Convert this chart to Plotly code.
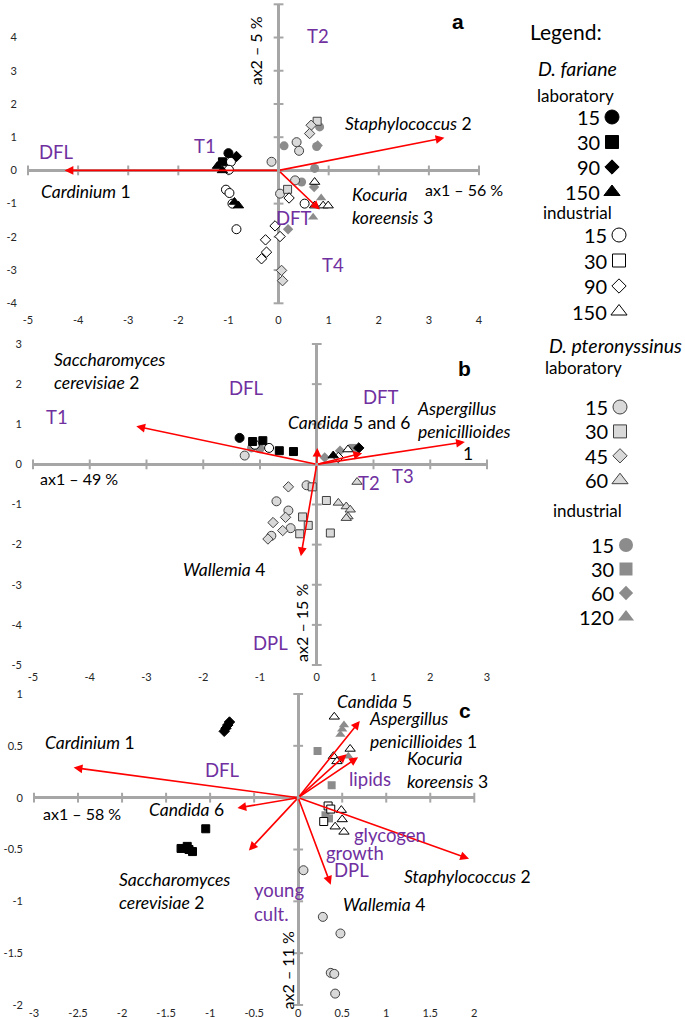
import plotly.graph_objects as go

# ---------------- tick values ----------------
A_XT = [-5, -4, -3, -2, -1, 0, 1, 2, 3, 4]
A_YT = [-4, -3, -2, -1, 0, 1, 2, 3, 4, 5]
B_XT = [-5, -4, -3, -2, -1, 0, 1, 2, 3]
B_YT = [-5, -4, -3, -2, -1, 0, 1, 2, 3]
C_XT = [-3, -2.5, -2, -1.5, -1, -0.5, 0, 0.5, 1, 1.5, 2]
C_YT = [-2, -1.5, -1, -0.5, 0, 0.5, 1]

# ---------------- legend categories ----------------
FAR_LAB_T = [15, 30, 90, 150]
FAR_IND_T = [15, 30, 90, 150]
PTER_LAB_T = [15, 30, 45, 60]
PTER_IND_T = [15, 30, 60, 120]

# ---------------- panel a ----------------
A_FAR_LAB_X = [-1.00, -1.12, -0.84, -1.22, -1.12, -0.80, -0.88]
A_FAR_LAB_Y = [0.52, 0.26, 0.42, 0.13, 0.00, -1.06, -0.95]
A_FAR_LAB_T = [15, 30, 90, 150, 150, 150, 150]

A_FAR_IND_X = [-0.95, -0.99, -1.05, -0.98, -0.92, -0.84, 0.52, 0.21, -0.07, 0.03, -0.26, -0.24, -0.34, 0.72, 0.72, 0.89, 0.99]
A_FAR_IND_Y = [0.26, 0.02, -0.58, -0.68, -1.00, -1.77, -1.00, -0.83, -1.67, -1.99, -2.09, -2.46, -2.66, -0.35, -1.06, -1.06, -1.06]
A_FAR_IND_T = [15, 15, 15, 15, 15, 15, 15, 90, 90, 90, 90, 90, 90, 150, 150, 150, 150]

A_PTER_LAB_X = [0.36, 0.41, -0.14, 0.33, 0.03, 0.77, 0.18, 0.65, 0.62, 0.06, 0.08]
A_PTER_LAB_Y = [0.85, 0.59, 0.26, -0.30, -0.70, 1.48, -0.57, 1.36, 1.11, -3.01, -3.32]
A_PTER_LAB_T = [15, 15, 15, 15, 15, 30, 30, 45, 45, 45, 45]

A_PTER_IND_X = [0.11, 0.82, 0.76, 0.72, 0.46, 0.78, 0.71, 0.19, 0.85, 0.69]
A_PTER_IND_Y = [0.74, 1.31, 0.72, 0.06, -0.35, 0.75, -0.50, -1.77, -0.83, -1.41]
A_PTER_IND_T = [15, 15, 15, 15, 15, 60, 60, 60, 120, 120]

A_ARROW_X = [-4.27, 3.31, 0.82]
A_ARROW_Y = [0.00, 0.98, -1.18]

A_SP_TEXT = ["<i>Cardinium</i> 1", "<i>Staphylococcus</i> 2", "<i>Kocuria<br>koreensis</i> 3"]
A_SP_X = [-3.85, 2.60, 1.42]
A_SP_Y = [-0.64, 1.42, -1.07]
A_SP_ANCHOR = ["center", "center", "left"]
A_VAR_TEXT = ["DFL", "T1", "T2", "DFT", "T4"]
A_VAR_X = [-4.43, -1.46, 0.78, 0.30, 1.08]
A_VAR_Y = [0.56, 0.72, 4.05, -1.43, -2.84]
A_AX_TEXT = ["ax1 – 56 %", "ax2 – 5 %"]
A_AX_X = [3.71, -0.46]
A_AX_Y = [-0.56, 3.60]

# ---------------- panel b ----------------
B_FAR_LAB_X = [-1.36, -1.13, -0.95, -0.66, -0.41, 0.29, 0.74]
B_FAR_LAB_Y = [0.66, 0.57, 0.59, 0.34, 0.32, 0.22, 0.41]
B_FAR_LAB_T = [15, 30, 30, 30, 30, 150, 90]

B_FAR_IND_X = [-1.09, -0.84, 0.38, 0.55]
B_FAR_IND_Y = [0.49, 0.41, 0.17, 0.37]
B_FAR_IND_T = [15, 15, 90, 150]

B_PTER_LAB_X = [-1.27, -0.18, -0.71, -0.50, -0.46, -0.80, -0.08, 0.17, -0.25, -0.15, -0.30, 0.24,
                -0.50, -0.55, -0.77, -0.60, -0.86, 0.38, 0.52, 0.59, 0.55, 0.52, 0.71]
B_PTER_LAB_Y = [0.22, -0.52, -0.92, -1.15, -1.59, -1.78, -0.56, -0.90, -1.31, -1.52, -1.73, -1.71,
                -0.56, -1.32, -1.45, -1.65, -1.86, -0.96, -1.05, -1.13, -1.30, -1.34, -0.44]
B_PTER_LAB_T = [15, 15, 15, 15, 15, 15, 30, 30, 30, 30, 30, 30,
                45, 45, 45, 45, 45, 60, 60, 60, 60, 60, 60]

B_PTER_IND_X = [-1.15, -1.00, 0.14, 0.41, 0.63]
B_PTER_IND_Y = [0.41, 0.39, 0.17, 0.34, 0.41]
B_PTER_IND_T = [15, 15, 60, 60, 30]

B_ARROW_X = [-3.18, 2.61, 0.80, 0.01, -0.28]
B_ARROW_Y = [0.95, 0.56, 0.28, 0.41, -2.29]

B_SP_TEXT = ["<i>Saccharomyces<br>cerevisiae</i> 2", "<i>Candida</i> 5 and 6",
             "<i>Aspergillus<br>penicillioides</i>", "1", "<i>Wallemia</i> 4"]
B_SP_X = [-4.67, 0.58, 1.73, 2.66, -1.63]
B_SP_Y = [2.32, 1.05, 1.10, 0.26, -2.63]
B_SP_ANCHOR = ["left", "center", "left", "center", "center"]
B_VAR_TEXT = ["T1", "DFL", "DFT", "T2", "T3", "DPL"]
B_VAR_X = [-4.58, -1.23, 1.14, 0.92, 1.52, -0.82]
B_VAR_Y = [1.17, 1.90, 1.68, -0.47, -0.30, -4.44]
B_AX_TEXT = ["ax1 – 49 %", "ax2 – 15 %"]
B_AX_X = [-4.19, -0.27]
B_AX_Y = [-0.34, -3.94]

# ---------------- panel c ----------------
C_FAR_LAB_X = [-0.84, -0.82, -0.80, -0.78, -1.05, -1.33, -1.26, -1.20, -1.24]
C_FAR_LAB_Y = [0.64, 0.67, 0.70, 0.73, -0.30, -0.49, -0.47, -0.52, -0.50]
C_FAR_LAB_T = [90, 90, 90, 90, 30, 30, 30, 30, 30]

C_FAR_IND_X = [0.41, 0.59, 0.40, 0.44, 0.49, 0.50, 0.42, 0.52, 0.34, 0.37, 0.29]
C_FAR_IND_Y = [0.78, 0.47, 0.40, 0.35, -0.12, -0.21, -0.28, -0.33, -0.08, -0.11, -0.23]
C_FAR_IND_T = [150, 150, 150, 150, 150, 150, 150, 150, 30, 30, 30]

C_PTER_LAB_X = [0.06, 0.28, 0.48, 0.37, 0.41, 0.42]
C_PTER_LAB_Y = [-0.70, -1.15, -1.31, -1.69, -1.70, -1.89]
C_PTER_LAB_T = [15, 15, 15, 15, 15, 15]

C_PTER_IND_X = [0.52, 0.50, 0.48, 0.57, 0.22, 0.38, 0.31, 0.35]
C_PTER_IND_Y = [0.70, 0.66, 0.61, 0.40, 0.45, 0.12, -0.17, -0.20]
C_PTER_IND_T = [120, 120, 120, 120, 30, 30, 30, 30]

C_ARROW_X = [-2.55, -0.69, -0.56, 0.70, 0.55, 0.68, 1.94, 0.37]
C_ARROW_Y = [0.29, -0.10, -0.51, 0.74, 0.42, 0.39, -0.59, -0.84]

C_SP_TEXT = ["<i>Candida</i> 5", "<i>Aspergillus<br>penicillioides</i> 1", "<i>Kocuria<br>koreensis</i> 3",
             "<i>Cardinium</i> 1", "<i>Candida</i> 6", "<i>Staphylococcus</i> 2",
             "<i>Saccharomyces<br>cerevisiae</i> 2", "<i>Wallemia</i> 4"]
C_SP_X = [0.87, 0.78, 1.21, -2.36, -1.27, 1.92, -2.06, 0.98]
C_SP_Y = [0.93, 0.65, 0.27, 0.53, -0.11, -0.76, -0.90, -1.03]
C_SP_ANCHOR = ["center", "left", "left", "center", "center", "center", "left", "center"]
C_VAR_TEXT = ["lipids", "DFL", "glycogen", "growth", "DPL", "young<br>cult."]
C_VAR_X = [0.81, -0.86, 1.04, 0.64, 0.61, -0.53]
C_VAR_Y = [0.18, 0.27, -0.36, -0.53, -0.70, -1.01]
C_VAR_ANCHOR = ["center", "center", "center", "center", "center", "left"]
C_AX_TEXT = ["ax1 – 58 %", "ax2 – 11 %"]
C_AX_X = [-2.46, -0.12]
C_AX_Y = [-0.15, -1.67]

PANEL_LETTERS = ["a", "b", "c"]
LETTER_X = [3.59, 2.60, 1.89]
LETTER_Y = [4.47, 2.40, 0.84]

# ---------------- styling ----------------
FONT = "Lato"
PURPLE = "#7030A0"
RED = "#FF0000"
AXGRAY = "#A6A6A6"
SYMBOLS = ["circle", "square", "diamond", "triangle-up"]
SIZES = [9, 8, 8, 9]
GROUP_STYLE = {
    "far_lab": dict(fill="#000000", line="#000000", lw=1),
    "far_ind": dict(fill="#FFFFFF", line="#000000", lw=1),
    "pter_lab": dict(fill="#D9D9D9", line="#404040", lw=1),
    "pter_ind": dict(fill="#8C8C8C", line="#8C8C8C", lw=0),
}
GROUP_TIMES = {"far_lab": FAR_LAB_T, "far_ind": FAR_IND_T, "pter_lab": PTER_LAB_T, "pter_ind": PTER_IND_T}

W, H = 685, 1017
panels = [
    dict(xa="x", ya="y", xd=(28, 479), yd=(4.3, 303.3), xr=(-5, 4), yr=(-4, 5), xt=A_XT, yt=A_YT,
         groups={"far_lab": (A_FAR_LAB_X, A_FAR_LAB_Y, A_FAR_LAB_T),
                 "far_ind": (A_FAR_IND_X, A_FAR_IND_Y, A_FAR_IND_T),
                 "pter_lab": (A_PTER_LAB_X, A_PTER_LAB_Y, A_PTER_LAB_T),
                 "pter_ind": (A_PTER_IND_X, A_PTER_IND_Y, A_PTER_IND_T)},
         arrows=(A_ARROW_X, A_ARROW_Y),
         sp=(A_SP_TEXT, A_SP_X, A_SP_Y, A_SP_ANCHOR),
         var=(A_VAR_TEXT, A_VAR_X, A_VAR_Y, ["center"] * 5),
         ax=(A_AX_TEXT, A_AX_X, A_AX_Y), xso=9),
    dict(xa="x2", ya="y2", xd=(33, 487), yd=(344, 665), xr=(-5, 3), yr=(-5, 3), xt=B_XT, yt=B_YT,
         groups={"far_lab": (B_FAR_LAB_X, B_FAR_LAB_Y, B_FAR_LAB_T),
                 "far_ind": (B_FAR_IND_X, B_FAR_IND_Y, B_FAR_IND_T),
                 "pter_lab": (B_PTER_LAB_X, B_PTER_LAB_Y, B_PTER_LAB_T),
                 "pter_ind": (B_PTER_IND_X, B_PTER_IND_Y, B_PTER_IND_T)},
         arrows=(B_ARROW_X, B_ARROW_Y),
         sp=(B_SP_TEXT, B_SP_X, B_SP_Y, B_SP_ANCHOR),
         var=(B_VAR_TEXT, B_VAR_X, B_VAR_Y, ["center"] * 6),
         ax=(B_AX_TEXT, B_AX_X, B_AX_Y), xso=4),
    dict(xa="x3", ya="y3", xd=(34, 474.3), yd=(694, 1005), xr=(-3, 2), yr=(-2, 1), xt=C_XT, yt=C_YT,
         groups={"far_lab": (C_FAR_LAB_X, C_FAR_LAB_Y, C_FAR_LAB_T),
                 "far_ind": (C_FAR_IND_X, C_FAR_IND_Y, C_FAR_IND_T),
                 "pter_lab": (C_PTER_LAB_X, C_PTER_LAB_Y, C_PTER_LAB_T),
                 "pter_ind": (C_PTER_IND_X, C_PTER_IND_Y, C_PTER_IND_T)},
         arrows=(C_ARROW_X, C_ARROW_Y),
         sp=(C_SP_TEXT, C_SP_X, C_SP_Y, C_SP_ANCHOR),
         var=(C_VAR_TEXT, C_VAR_X, C_VAR_Y, C_VAR_ANCHOR),
         ax=(C_AX_TEXT, C_AX_X, C_AX_Y), xso=0),
]

fig = go.Figure()
annotations = []
layout_axes = {}
TICKFONT = dict(family=FONT, size=11, color="#262626")

for i, p in enumerate(panels):
    xa, ya = p["xa"], p["ya"]
    xkey = "xaxis" if xa == "x" else "xaxis" + xa[1:]
    ykey = "yaxis" if ya == "y" else "yaxis" + ya[1:]
    layout_axes[xkey] = dict(
        domain=[p["xd"][0] / W, p["xd"][1] / W], range=list(p["xr"]), anchor=ya, automargin=False,
        showgrid=False, showline=False, zeroline=True, zerolinecolor=AXGRAY, zerolinewidth=2.5,
        tickmode="array", tickvals=p["xt"], ticktext=[f"{v:g}" for v in p["xt"]],
        ticks="", tickfont=TICKFONT, fixedrange=True, ticklabelstandoff=p["xso"])
    layout_axes[ykey] = dict(
        domain=[1 - p["yd"][1] / H, 1 - p["yd"][0] / H], range=list(p["yr"]), anchor=xa, automargin=False,
        showgrid=False, showline=False, zeroline=True, zerolinecolor=AXGRAY, zerolinewidth=2.5,
        tickmode="array", tickvals=p["yt"], ticktext=[f"{v:g}" for v in p["yt"]],
        ticks="", tickfont=TICKFONT, fixedrange=True, ticklabelstandoff=10)
    # tick marks on the zero axes
    fig.add_trace(go.Scatter(x=p["xt"], y=[0] * len(p["xt"]), xaxis=xa, yaxis=ya, mode="markers",
                             marker=dict(symbol="line-ns", size=7, line=dict(width=2, color=AXGRAY)),
                             hoverinfo="skip", showlegend=False, cliponaxis=False))
    fig.add_trace(go.Scatter(x=[0] * len(p["yt"]), y=p["yt"], xaxis=xa, yaxis=ya, mode="markers",
                             marker=dict(symbol="line-ew", size=7, line=dict(width=2, color=AXGRAY)),
                             hoverinfo="skip", showlegend=False, cliponaxis=False))
    # points
    for g in ["pter_ind", "pter_lab", "far_ind", "far_lab"]:
        gx, gy, gt = p["groups"][g]
        st = GROUP_STYLE[g]
        idx = [GROUP_TIMES[g].index(t) for t in gt]
        fig.add_trace(go.Scatter(
            x=gx, y=gy, xaxis=xa, yaxis=ya, mode="markers", showlegend=False, cliponaxis=False,
            marker=dict(symbol=[SYMBOLS[k] for k in idx], size=[SIZES[k] for k in idx], opacity=1,
                        color=st["fill"], line=dict(color=st["line"], width=st["lw"]))))
    # arrows
    for tx, ty in zip(*p["arrows"]):
        annotations.append(dict(x=tx, y=ty, ax=0, ay=0, xref=xa, yref=ya, axref=xa, ayref=ya,
                                text="", showarrow=True, arrowhead=2, arrowsize=1.1, arrowwidth=1.6,
                                arrowcolor=RED))
    # species labels
    for t, x, y, anc in zip(*p["sp"]):
        annotations.append(dict(x=x, y=y, xref=xa, yref=ya, text=t, showarrow=False, xanchor=anc,
                                align="left", font=dict(family=FONT, size=17.5, color="#000000")))
    # variable labels
    for t, x, y, anc in zip(*p["var"]):
        annotations.append(dict(x=x, y=y, xref=xa, yref=ya, text=t, showarrow=False, xanchor=anc,
                                align="left", font=dict(family=FONT, size=18.5, color=PURPLE)))
    # axis labels
    at, axx, axy = p["ax"]
    annotations.append(dict(x=axx[0], y=axy[0], xref=xa, yref=ya, text=at[0], showarrow=False,
                            font=dict(family=FONT, size=16, color="#000000")))
    annotations.append(dict(x=axx[1], y=axy[1], xref=xa, yref=ya, text=at[1], showarrow=False,
                            textangle=-90, font=dict(family=FONT, size=16, color="#000000")))
    # panel letter
    annotations.append(dict(x=LETTER_X[i], y=LETTER_Y[i], xref=xa, yref=ya, text=f"<b>{PANEL_LETTERS[i]}</b>",
                            showarrow=False, font=dict(family="Liberation Sans", size=21, color="#000000")))

# ---------------- custom legend (pixel-like axis on the right strip) ----------------
LX0 = 500
layout_axes["xaxis4"] = dict(domain=[LX0 / W, 1], range=[LX0, W], visible=False, anchor="y4",
                             fixedrange=True, automargin=False)
layout_axes["yaxis4"] = dict(domain=[0, 1], range=[H, 0], visible=False, anchor="x4",
                             fixedrange=True, automargin=False)

LEG_SIZES = [14, 13, 11, 14]
legend_groups = [
    # group key, labels, header text, header y, header x, first row y, row step, marker x
    ("far_lab", FAR_LAB_T, "laboratory", 95, 575, 117, 25.0, 612),
    ("far_ind", FAR_IND_T, "industrial", 212, 577, 235, 25.5, 619),
    ("pter_lab", PTER_LAB_T, "laboratory", 367, 583, 407, 24.4, 620),
    ("pter_ind", PTER_IND_T, "industrial", 510, 587, 545, 24.0, 626),
]
annotations.append(dict(x=566, y=31, xref="x4", yref="y4", text="Legend:", showarrow=False,
                        font=dict(family=FONT, size=21, color="#000000")))
annotations.append(dict(x=577, y=68, xref="x4", yref="y4", text="<i>D. fariane</i>", showarrow=False,
                        font=dict(family=FONT, size=19.5, color="#000000")))
annotations.append(dict(x=615, y=345, xref="x4", yref="y4", text="<i>D. pteronyssinus</i>", showarrow=False,
                        font=dict(family=FONT, size=19.5, color="#000000")))
for g, labels, head, hy, hx, y0, dy, mx in legend_groups:
    st = GROUP_STYLE[g]
    annotations.append(dict(x=hx, y=hy, xref="x4", yref="y4", text=head, showarrow=False,
                            font=dict(family=FONT, size=17, color="#000000")))
    ys = [y0 + k * dy for k in range(len(labels))]
    fig.add_trace(go.Scatter(x=[mx] * len(labels), y=ys, xaxis="x4", yaxis="y4", mode="markers",
                             showlegend=False, hoverinfo="skip", cliponaxis=False,
                             marker=dict(symbol=SYMBOLS, size=LEG_SIZES, color=st["fill"], opacity=1,
                                         line=dict(color=st["line"], width=st["lw"]))))
    for lab, yy in zip(labels, ys):
        annotations.append(dict(x=mx - 10, y=yy, xref="x4", yref="y4", text=str(lab), showarrow=False,
                                xanchor="right", font=dict(family=FONT, size=20, color="#000000")))

fig.update_layout(width=W, height=H, margin=dict(l=0, r=0, t=0, b=0), paper_bgcolor="white",
                  plot_bgcolor="rgba(0,0,0,0)", showlegend=False, annotations=annotations, **layout_axes)
fig.write_html("out.html", config={"displayModeBar": False},
               post_script="document.body.style.margin='0';document.body.style.overflow='hidden';")
